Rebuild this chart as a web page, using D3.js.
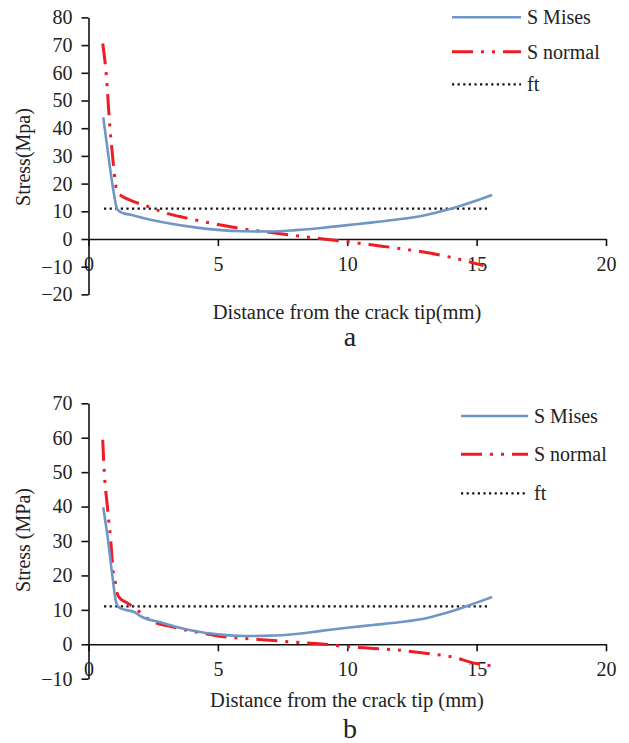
<!DOCTYPE html>
<html>
<head>
<meta charset="utf-8">
<script src="https://cdn.jsdelivr.net/npm/d3@7"></script>
<style>
  html, body { margin: 0; padding: 0; background: #fff; }
  svg { display: block; }
  text { font-family: "Liberation Serif", "Times New Roman", serif; fill: #222; }
</style>
</head>
<body>
<svg id="fig" width="629" height="743"></svg>
<script>
// ---- panel (a) ----
const misesA_x = [0.57, 0.77, 0.92, 1.12, 1.35, 1.67, 2.31, 3.09, 4.12, 5, 6, 7, 8, 9, 10, 11, 12, 13, 14, 15, 15.6];
const misesA_y = [43.9, 30, 20, 10.6, 9.3, 8.7, 7.1, 5.7, 4.2, 3.3, 2.8, 2.7, 3.2, 4.0, 5.0, 6.0, 7.1, 8.6, 10.9, 13.9, 15.9];
const normalA_x = [0.55, 0.68, 0.83, 0.93, 1.05, 1.15, 1.22, 1.54, 1.86, 2.25, 2.64, 3.02, 3.67, 4.12, 5, 6, 7, 8, 9, 10, 11, 12, 13, 14, 15.27];
const normalA_y = [70.6, 60, 40, 30, 19.5, 16.5, 15.9, 14.3, 13.1, 11.9, 10.5, 9.3, 7.8, 6.9, 5.2, 3.6, 2.4, 1.2, 0.1, -1, -2.2, -3.4, -4.8, -6.6, -9.6];
const ftA_x = [0.6, 15.5];
const ftA_y = [11, 11];

// ---- panel (b) ----
const misesB_x = [0.57, 0.76, 0.92, 1.06, 1.15, 1.41, 1.73, 2.05, 2.82, 3.6, 4.43, 5, 6, 7, 8, 9, 10, 11, 12, 13, 14, 15, 15.6];
const misesB_y = [39.8, 30, 20, 12.5, 10.9, 10.0, 9.5, 8.0, 6.3, 4.65, 3.4, 2.9, 2.4, 2.5, 3.0, 3.9, 4.8, 5.6, 6.4, 7.5, 9.5, 12.1, 13.7];
const normalB_x = [0.55, 0.61, 0.73, 0.86, 0.97, 1.02, 1.09, 1.21, 1.47, 1.86, 2.18, 2.57, 3.21, 3.6, 4.05, 4.43, 5, 6, 7, 8, 9, 10, 11, 12, 13, 14, 15, 15.6];
const normalB_y = [59.4, 50, 40, 30, 20, 18.7, 15.3, 13.4, 12.1, 10.2, 8.0, 6.3, 5.1, 4.4, 3.7, 3.2, 2.4, 1.7, 1.2, 0.6, 0.1, -0.7, -1.2, -1.7, -2.6, -3.6, -5.6, -6.3];
const ftB_x = [0.6, 15.5];
const ftB_y = [11, 11];

const xTicks = [0, 5, 10, 15, 20];
const yTicksA = [-20, -10, 0, 10, 20, 30, 40, 50, 60, 70, 80];
const yTicksB = [-10, 0, 10, 20, 30, 40, 50, 60, 70];
const seriesNames = ["S Mises", "S normal", "ft"];

const COLORS = { mises: "#7096c8", normal: "#ee1c25", ft: "#111" };
const svg = d3.select("#fig");
svg.append("rect").attr("width", 629).attr("height", 743).attr("fill", "#fff");

const zip = (xs, ys) => xs.map((x, i) => [x, ys[i]]);

function panel(cfg) {
  const g = svg.append("g");
  const x = d3.scaleLinear().domain([0, 20]).range([88.5, 606]);
  const y = d3.scaleLinear().domain(cfg.yDomain).range(cfg.yRange);

  // axes
  const xAxis = d3.axisBottom(x).tickValues(xTicks).tickSize(7).tickPadding(11).tickSizeOuter(0);
  const gx = g.append("g").attr("transform", `translate(0,${y(0)})`).call(xAxis);
  const yAxis = d3.axisLeft(y).tickValues(cfg.yTicks).tickSize(7).tickPadding(9).tickSizeOuter(0);
  const gy = g.append("g").attr("transform", `translate(${x(0)},0)`).call(yAxis);
  [gx, gy].forEach(a => {
    a.selectAll("path, line").attr("stroke", "#111").attr("stroke-width", 1.6);
    a.selectAll("text").attr("font-size", 20).attr("fill", "#222")
      .style("font-family", '"Liberation Serif", serif');
  });

  const line = d3.line().x(d => x(d[0])).y(d => y(d[1])).curve(d3.curveMonotoneX);

  g.append("path").datum(zip(cfg.ftX, cfg.ftY)).attr("d", line)
    .attr("fill", "none").attr("stroke", COLORS.ft).attr("stroke-width", 2.2)
    .attr("stroke-dasharray", "2.2,3.4");
  g.append("path").datum(zip(cfg.normalX, cfg.normalY)).attr("d", line)
    .attr("fill", "none").attr("stroke", COLORS.normal).attr("stroke-width", 3)
    .attr("stroke-dasharray", "21,8,3,8,3,8");
  g.append("path").datum(zip(cfg.misesX, cfg.misesY)).attr("d", line)
    .attr("fill", "none").attr("stroke", COLORS.mises).attr("stroke-width", 2.6);

  // legend
  const styles = [
    { c: COLORS.mises, w: 2.6, dash: null },
    { c: COLORS.normal, w: 3, dash: "21,8,3,8,3,8" },
    { c: COLORS.ft, w: 2.2, dash: "2.2,3.4" }
  ];
  seriesNames.forEach((name, i) => {
    const ly = cfg.legendY[i];
    const s = styles[i];
    g.append("line").attr("x1", cfg.legendX[0]).attr("x2", cfg.legendX[1])
      .attr("y1", ly).attr("y2", ly).attr("stroke", s.c).attr("stroke-width", s.w)
      .attr("stroke-dasharray", s.dash);
    g.append("text").attr("x", cfg.legendX[1] + 6).attr("y", ly).attr("dy", "0.35em")
      .attr("font-size", 20).text(name);
  });

  // titles
  g.append("text").attr("transform", `translate(30,${cfg.yTitleY}) rotate(-90)`)
    .attr("text-anchor", "middle").attr("font-size", 20).text(cfg.yTitle);
  g.append("text").attr("x", 347).attr("y", cfg.xTitleY).attr("dy", "0.35em")
    .attr("text-anchor", "middle").attr("font-size", 20.5).text(cfg.xTitle);
  g.append("text").attr("x", 350).attr("y", cfg.capY).attr("dy", "0.35em")
    .attr("text-anchor", "middle").attr("font-size", 28).text(cfg.caption);
}

panel({
  yDomain: [-20, 80], yRange: [294.4, 17.4], yTicks: yTicksA,
  misesX: misesA_x, misesY: misesA_y, normalX: normalA_x, normalY: normalA_y, ftX: ftA_x, ftY: ftA_y,
  legendX: [452, 521], legendY: [17.3, 51.7, 84.3],
  yTitle: "Stress(Mpa)", yTitleY: 157, xTitle: "Distance from the crack tip(mm)", xTitleY: 311.7,
  caption: "a", capY: 336
});

panel({
  yDomain: [-10, 70], yRange: [678.7, 403.3], yTicks: yTicksB,
  misesX: misesB_x, misesY: misesB_y, normalX: normalB_x, normalY: normalB_y, ftX: ftB_x, ftY: ftB_y,
  legendX: [461, 528], legendY: [416, 454.3, 493.3],
  yTitle: "Stress (MPa)", yTitleY: 540, xTitle: "Distance from the crack tip (mm)", xTitleY: 700,
  caption: "b", capY: 728
});
</script>
</body>
</html>
